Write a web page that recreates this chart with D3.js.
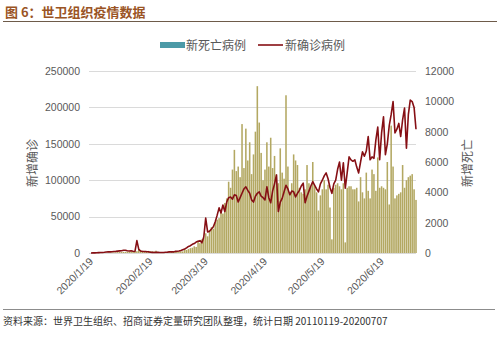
<!DOCTYPE html>
<html>
<head>
<meta charset="utf-8">
<script src="https://cdn.jsdelivr.net/npm/d3@7"></script>
<style>
  body { margin: 0; background: #fff; }
  text { font-family: "Liberation Sans", "Noto Sans CJK SC", sans-serif; }
</style>
</head>
<body>
<div id="chart"></div>
<script>
// Data: daily WHO figures, 2020/1/19 - 2020/7/7
const START_DATE = "2020-01-19";
const TICK_DATES = ["2020-01-19", "2020-02-19", "2020-03-19", "2020-04-19", "2020-05-19", "2020-06-19"];
const LEFT_TICKS = [0, 50000, 100000, 150000, 200000, 250000];
const RIGHT_TICKS = [0, 2000, 4000, 6000, 8000, 10000, 12000];

// new confirmed cases (left axis)
const newCases = [
    100, 150, 150, 300, 500, 600, 700, 1000, 1400, 1700, 1500, 1800, 2000,
    2200, 2600, 2900, 3200, 3700, 3700, 3100, 2700, 3000, 2500, 2100, 17000, 5000,
    2700, 2100, 2100, 1900, 1800, 1000, 900, 600, 1000, 800, 600, 700, 600, 1000, 1200, 1500,
    1800, 1500, 2200, 2300, 2800, 3500, 4500, 5500, 7000, 9000, 10000, 12000, 13000, 15000,
    16000, 17000, 14000, 22000, 48000, 29000, 30000, 33000, 36000, 43000, 52000, 62000, 55000,
    66000, 57000, 70000, 76000, 77000, 74000, 80000, 79000, 70000, 76000, 82000, 88000, 91000,
    86000, 82000, 73000, 70000, 78000, 82000, 84000, 78000, 76000, 73000, 91000, 76000, 69000,
    85000, 95000, 107000, 57000, 70000, 75000, 84000, 93000, 88000, 80000, 85000, 84000, 77000,
    82000, 86000, 92000, 96000, 69000, 78000, 85000, 92000, 98000, 93000, 88000, 84000, 95000,
    100000, 106000, 110000, 102000, 90000, 82000, 95000, 100000, 115000, 125000, 100000, 124000,
    89000, 110000, 132000, 128000, 126000, 128000, 118000, 110000, 125000, 139000, 133000, 140000,
    160000, 128000, 132000, 130000, 155000, 173000, 128000, 165000, 187000, 135000, 150000, 175000,
    190000, 208000, 165000, 170000, 178000, 160000, 183000, 199000, 144000, 190000, 210000, 208000,
    200000, 170000
];

// new deaths (right axis)
const newDeaths = [
    0, 0, 3, 9, 8, 16, 15, 24, 26, 26, 38, 43, 46,
    45, 57, 64, 65, 73, 73, 86, 89, 97, 108, 97, 120, 254,
    143, 142, 105, 98, 139, 118, 109, 97, 150, 71, 52, 29, 44, 47, 35, 42,
    60, 70, 80, 100, 100, 110, 105, 230, 200, 260, 320, 350, 440, 400,
    800, 650, 900, 1000, 1300, 1100, 1500, 1700, 1600, 2000, 2200, 2300, 2700,
    2600, 3300, 3600, 4700, 4300, 5500, 6800, 5400, 5700, 5000, 8500, 5600, 8200,
    6100, 7300, 5200, 6500, 8000, 11000, 8600, 6600, 4800, 5500, 7300, 5700, 7600,
    5600, 6400, 5200, 4600, 6900, 5300, 4900, 10400, 5700, 4000, 4600, 6500, 6100,
    5800, 4300, 4000, 3900, 4200, 5800, 4600, 4400, 6000, 4400, 4000, 2800, 3800,
    4200, 4800, 4200, 4500, 3000, 900, 4300, 4500, 4600, 4400, 4200, 4600,
    700, 4300, 4400, 4400, 4200, 4200, 4300, 3400, 5000, 4000, 3600, 5300,
    4100, 3600, 5500, 5200, 4100, 6300, 4300, 4400, 4300, 4200, 6000, 3200,
    8400, 5700, 3600, 3800, 3900, 4000, 5800, 4300, 4800, 5000, 5100, 5200,
    4200, 3500
];

var w = 500;
var h = 337;
var plot = { left: 91, right: 416, top: 71, bottom: 253 };

var parse = d3.timeParse("%Y-%m-%d");
var start = parse(START_DATE);
var dates = newCases.map((d, i) => d3.timeDay.offset(start, i));

var svg = d3.select("#chart")
    .append("svg")
    .attr("width", w)
    .attr("height", h);

//Scales
var x = d3.scaleTime()
    .domain([start, dates[dates.length - 1]])
    .range([plot.left, plot.right]);

var yLeft = d3.scaleLinear()
    .domain([0, 250000])
    .range([plot.bottom, plot.top]);

var yRight = d3.scaleLinear()
    .domain([0, 12000])
    .range([plot.bottom, plot.top]);

//Title
svg.append("text")
    .attr("x", 5)
    .attr("y", 17)
    .attr("fill", "#9a5424")
    .style("font-family", "'Noto Sans CJK SC'")
    .style("font-weight", "bold")
    .style("font-size", "13px")
    .text("图 6：世卫组织疫情数据");

svg.append("line")
    .attr("x1", 3).attr("x2", 497)
    .attr("y1", 21.5).attr("y2", 21.5)
    .attr("stroke", "#6e5b4a")
    .attr("stroke-width", 1);

//Gridlines
svg.append("g")
    .selectAll("line")
    .data(LEFT_TICKS)
    .join("line")
    .attr("x1", plot.left - 2)
    .attr("x2", plot.right)
    .attr("y1", d => Math.round(yLeft(d)) + 0.5)
    .attr("y2", d => Math.round(yLeft(d)) + 0.5)
    .attr("stroke", "#dadada");

//Bars
var barW = 1.55;
svg.append("g")
    .selectAll("rect")
    .data(newDeaths)
    .join("rect")
    .attr("x", (d, i) => x(dates[i]) - barW / 2)
    .attr("y", d => yRight(d))
    .attr("width", barW)
    .attr("height", d => plot.bottom - yRight(d))
    .attr("fill", "#b3a862");

//Line
var line = d3.line()
    .x((d, i) => x(dates[i]))
    .y(d => yLeft(d));

svg.append("path")
    .datum(newCases)
    .attr("d", line)
    .attr("fill", "none")
    .attr("stroke", "#860f14")
    .attr("stroke-width", 1.6)
    .attr("stroke-linejoin", "round");

//Left axis
var leftAxis = svg.append("g")
    .attr("transform", `translate(${plot.left - 11},0)`)
    .call(d3.axisLeft(yLeft).tickValues(LEFT_TICKS).tickFormat(d3.format("d")).tickSize(0).tickPadding(0));
leftAxis.select(".domain").remove();
leftAxis.selectAll("text")
    .attr("fill", "#595959")
    .style("font-size", "10.5px");

//Right axis
var rightAxis = svg.append("g")
    .attr("transform", `translate(${plot.right + 9},0)`)
    .call(d3.axisRight(yRight).tickValues(RIGHT_TICKS).tickFormat(d3.format("d")).tickSize(0).tickPadding(0));
rightAxis.select(".domain").remove();
rightAxis.selectAll("text")
    .attr("fill", "#595959")
    .style("font-size", "10.5px");

//X axis labels
svg.append("g")
    .selectAll("text")
    .data(TICK_DATES.map(parse))
    .join("text")
    .attr("transform", d => `translate(${x(d) + 3},${plot.bottom + 9}) rotate(-45)`)
    .attr("text-anchor", "end")
    .attr("fill", "#595959")
    .style("font-size", "10.5px")
    .text(d3.timeFormat("%Y/%-m/%-d"));

//Axis titles
svg.append("text")
    .attr("transform", `translate(37,${(plot.top + plot.bottom) / 2 + 1}) rotate(-90)`)
    .attr("text-anchor", "middle")
    .attr("fill", "#595959")
    .style("font-family", "'Noto Sans CJK SC'")
    .style("font-size", "12px")
    .text("新增确诊");

svg.append("text")
    .attr("transform", `translate(472,${(plot.top + plot.bottom) / 2 + 1}) rotate(-90)`)
    .attr("text-anchor", "middle")
    .attr("fill", "#595959")
    .style("font-family", "'Noto Sans CJK SC'")
    .style("font-size", "12px")
    .text("新增死亡");

//Legend
var legend = svg.append("g");
legend.append("rect")
    .attr("x", 160).attr("y", 42)
    .attr("width", 25).attr("height", 6)
    .attr("fill", "#4c9aa7");
legend.append("text")
    .attr("x", 186).attr("y", 49.5)
    .attr("fill", "#595959")
    .style("font-family", "'Noto Sans CJK SC'")
    .style("font-size", "12px")
    .text("新死亡病例");
legend.append("line")
    .attr("x1", 258).attr("x2", 283)
    .attr("y1", 45).attr("y2", 45)
    .attr("stroke", "#860f14")
    .attr("stroke-width", 1.6);
legend.append("text")
    .attr("x", 285).attr("y", 49.5)
    .attr("fill", "#595959")
    .style("font-family", "'Noto Sans CJK SC'")
    .style("font-size", "12px")
    .text("新确诊病例");

//Footer
svg.append("line")
    .attr("x1", 3).attr("x2", 495)
    .attr("y1", 309.5).attr("y2", 309.5)
    .attr("stroke", "#8c8c8c");

svg.append("text")
    .attr("x", 3).attr("y", 325)
    .attr("fill", "#333")
    .style("font-family", "'Noto Sans CJK SC'")
    .style("font-size", "10px")
    .text("资料来源：世界卫生组织、招商证券定量研究团队整理，统计日期 20110119-20200707");
</script>
</body>
</html>
